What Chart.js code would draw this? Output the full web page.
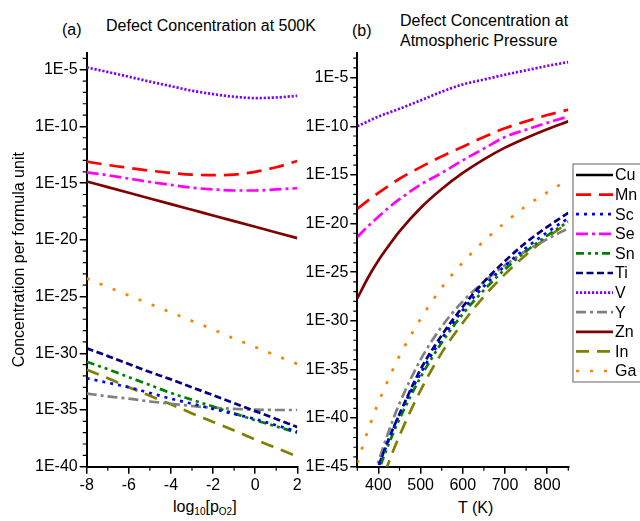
<!DOCTYPE html>
<html>
<head>
<meta charset="utf-8">
<script src="https://cdn.jsdelivr.net/npm/chart.js@4.4.0/dist/chart.umd.min.js"></script>
<style>
  body { margin: 0; background: #fff; width: 640px; height: 521px; overflow: hidden; position: relative;
         font-family: "Liberation Sans", Arial, sans-serif; color: #000; }
  canvas { position: absolute; top: 0; }
  #chartA { left: 0; }
  #chartB { left: 290px; }
  .txt { position: absolute; font-size: 16px; line-height: 18px; white-space: nowrap; }
  .txt sub { font-size: 10px; vertical-align: -3px; line-height: 0; }
</style>
</head>
<body>
<div class="txt" style="left:62px;top:21px">(a)</div>
<div class="txt" style="left:106px;top:17px">Defect Concentration at 500K</div>
<div class="txt" style="left:352px;top:22px">(b)</div>
<div class="txt" style="left:400px;top:11px;line-height:19.5px">Defect Concentration at<br>Atmospheric Pressure</div>
<div class="txt" style="left:173px;top:498px">log<sub>10</sub>[p<sub>O2</sub>]</div>
<div class="txt" style="left:458px;top:499px">T (K)</div>
<canvas id="chartA" width="320" height="521"></canvas>
<canvas id="chartB" width="350" height="521"></canvas>
<script>
// x values
const pO2 = [-8, -7, -6, -5, -4, -3, -2, -1, 0, 1, 2];            // log10[pO2], panel (a)
const temps = [350, 375, 400, 425, 450, 500, 550, 600, 650, 700, 750, 800, 850]; // T (K), panel (b)

const elements = ['Cu', 'Mn', 'Sc', 'Se', 'Sn', 'Ti', 'V', 'Y', 'Zn', 'In', 'Ga'];

// panel (a): log10 of concentration at 500 K
const cuA = [];
const mnA = [-13.1, -13.4, -13.65, -13.9, -14.1, -14.25, -14.3, -14.25, -14.0, -13.6, -13.05];
const scA = [-32.2, -32.6, -33.0, -33.5, -34.0, -34.45, -34.9, -35.35, -35.8, -36.35, -36.9];
const seA = [-14.05, -14.3, -14.6, -14.9, -15.15, -15.4, -15.55, -15.65, -15.65, -15.55, -15.45];
const snA = [-30.75, -31.4, -32.1, -32.8, -33.5, -34.1, -34.7, -35.3, -35.9, -36.45, -37.0];
const tiA = [-29.55, -30.25, -30.95, -31.65, -32.3, -33.0, -33.7, -34.4, -35.1, -35.8, -36.5];
const vA  = [-4.8, -5.2, -5.62, -6.05, -6.45, -6.85, -7.15, -7.38, -7.5, -7.45, -7.3];
const yA  = [-33.55, -33.8, -34.0, -34.25, -34.45, -34.65, -34.8, -34.9, -34.97, -35.0, -35.0];
const znA = [-14.85, -15.35, -15.85, -16.35, -16.85, -17.35, -17.85, -18.35, -18.85, -19.35, -19.85];
const inA = [-31.45, -32.2, -33.0, -33.75, -34.5, -35.3, -36.05, -36.8, -37.6, -38.35, -39.1];
const gaA = [-23.4, -24.15, -24.9, -25.65, -26.4, -27.15, -27.9, -28.7, -29.45, -30.2, -30.95];

// panel (b): log10 of concentration at atmospheric pressure
const cuB = [];
const mnB = [-18.5, -17.65, -16.85, -16.1, -15.4, -14.2, -13.1, -12.1, -11.1, -10.2, -9.5, -8.85, -8.3];
const scB = [-51.9, -48.2, -45.0, -42.2, -39.6, -35.4, -31.85, -28.9, -26.45, -24.35, -22.5, -20.9, -19.45];
const seB = [-21.4, -20.3, -19.3, -18.35, -17.5, -16.0, -14.8, -13.5, -12.3, -11.1, -10.35, -9.65, -9.0];
const snB = [-52.4, -48.7, -45.5, -42.6, -40.1, -35.8, -32.25, -29.3, -26.85, -24.7, -22.85, -21.25, -19.8];
const tiB = [-52.0, -48.3, -45.0, -42.1, -39.6, -35.0, -31.5, -28.55, -26.0, -23.85, -21.95, -20.35, -18.9];
const vB  = [-10.0, -9.5, -9.0, -8.6, -8.2, -7.35, -6.45, -5.7, -5.2, -4.7, -4.25, -3.8, -3.4];
const yB  = [-50.0, -48.0, -44.5, -41.3, -38.5, -34.0, -30.6, -28.0, -26.0, -24.3, -22.8, -21.6, -20.5];
const znB = [-27.7, -25.6, -23.8, -22.25, -20.8, -18.4, -16.45, -14.8, -13.4, -12.2, -11.2, -10.3, -9.5];
const inB = [-56.0, -51.1, -47.6, -44.5, -41.8, -37.15, -33.3, -30.2, -27.5, -25.2, -23.2, -21.45, -19.9];
const gaB = [-44.6, -41.3, -38.4, -35.9, -33.6, -29.8, -26.6, -24.0, -21.8, -19.9, -18.2, -16.8, -15.5];

// tick labels
const yTicksA = [-40, -35, -30, -25, -20, -15, -10, -5];
const yTicksB = [-45, -40, -35, -30, -25, -20, -15, -10, -5];
const xTicksA = [-8, -6, -4, -2, 0, 2];
const xTicksB = [400, 500, 600, 700, 800];

const seriesA = [cuA, mnA, scA, seA, snA, tiA, vA, yA, znA, inA, gaA];
const seriesB = [cuB, mnB, scB, seB, snB, tiB, vB, yB, znB, inB, gaB];

const styles = {
  Cu: { color: '#000000', dash: [] },
  Mn: { color: '#ff0000', dash: [15, 8] },
  Sc: { color: '#0000ff', dash: [3, 5] },
  Se: { color: '#ff00ff', dash: [12, 4, 3, 4] },
  Sn: { color: '#008000', dash: [8, 4, 3, 4, 3, 4] },
  Ti: { color: '#000080', dash: [7, 3.5] },
  V:  { color: '#8000ff', dash: [2.2, 1.8] },
  Y:  { color: '#808080', dash: [10, 4, 3, 4] },
  Zn: { color: '#800000', dash: [] },
  In: { color: '#808000', dash: [13, 8] },
  Ga: { color: '#ff8000', dash: [3, 11] }
};

const FONT = '"Liberation Sans", Arial, sans-serif';

function makeDatasets(xs, series) {
  return elements.map((el, i) => ({
    label: el,
    data: series[i].map((v, j) => ({ x: xs[j], y: v })),
    borderColor: styles[el].color,
    backgroundColor: styles[el].color,
    borderDash: styles[el].dash,
    borderWidth: 2.7,
    pointRadius: 0,
    fill: false,
    cubicInterpolationMode: 'monotone'
  }));
}

// short unlabeled ticks between the labeled ones
const minorTicks = {
  id: 'minorTicks',
  afterDraw(chart, args, opts) {
    const ctx = chart.ctx, a = chart.chartArea;
    const xs = chart.scales.x, ys = chart.scales.y;
    ctx.save();
    ctx.strokeStyle = '#000';
    ctx.lineWidth = 1.2;
    ctx.beginPath();
    opts.x.forEach(v => {
      const p = xs.getPixelForValue(v);
      ctx.moveTo(p, a.bottom); ctx.lineTo(p, a.bottom + 4);
    });
    opts.y.forEach(v => {
      const p = ys.getPixelForValue(v);
      ctx.moveTo(a.left - 4, p); ctx.lineTo(a.left, p);
    });
    ctx.stroke();
    ctx.restore();
  }
};

// legend box drawn to the right of panel (b)
const boxLegend = {
  id: 'boxLegend',
  afterDraw(chart, args, o) {
    if (!o.show) return;
    const ctx = chart.ctx;
    ctx.save();
    ctx.strokeStyle = '#7a7a7a';
    ctx.lineWidth = 1.2;
    ctx.strokeRect(o.x, o.y, o.w, o.h);
    ctx.font = '16px ' + FONT;
    ctx.textBaseline = 'middle';
    chart.data.datasets.forEach((ds, i) => {
      const y = o.y + 11 + i * o.row;
      ctx.strokeStyle = ds.borderColor;
      ctx.lineWidth = ds.borderWidth;
      ctx.setLineDash(ds.borderDash);
      ctx.beginPath();
      ctx.moveTo(o.x + 3, y);
      ctx.lineTo(o.x + 40, y);
      ctx.stroke();
      ctx.setLineDash([]);
      ctx.fillStyle = '#000';
      ctx.fillText(ds.label, o.x + 42, y + 1);
    });
    ctx.restore();
  }
};

function range(a, b, step) {
  const out = [];
  for (let v = a; v <= b + 1e-9; v += step) out.push(v);
  return out;
}

function makeChart(id, xs, series, cfg) {
  return new Chart(document.getElementById(id), {
    type: 'line',
    data: { datasets: makeDatasets(xs, series) },
    options: {
      responsive: false,
      animation: false,
      layout: { padding: cfg.padding },
      plugins: {
        legend: { display: false },
        tooltip: { enabled: false },
        minorTicks: { x: cfg.minorX, y: cfg.minorY },
        boxLegend: cfg.legend
      },
      scales: {
        x: {
          type: 'linear',
          min: cfg.xMin, max: cfg.xMax,
          afterBuildTicks: s => { s.ticks = cfg.xTicks.map(v => ({ value: v })); },
          afterFit: s => { s.height = 54.3; },
          border: { display: true, color: '#000', width: 2 },
          grid: { drawOnChartArea: false, drawTicks: true, tickLength: 7, tickColor: '#000', lineWidth: 1.5 },
          ticks: { color: '#000', font: { family: FONT, size: 16 }, padding: 2, maxRotation: 0 }
        },
        y: {
          type: 'linear',
          min: cfg.yMin, max: cfg.yMax,
          afterBuildTicks: s => { s.ticks = cfg.yTicks.map(v => ({ value: v })); },
          afterFit: s => { s.width = cfg.yWidth; },
          border: { display: true, color: '#000', width: 2 },
          grid: { drawOnChartArea: false, drawTicks: true, tickLength: 7, tickColor: '#000', lineWidth: 1.5 },
          ticks: { color: '#000', font: { family: FONT, size: 16 }, padding: 2, callback: v => '1E' + v },
          title: {
            display: cfg.yTitle !== '',
            text: cfg.yTitle,
            color: '#000',
            font: { family: FONT, size: 16 },
            padding: { top: 10, bottom: 0 }
          }
        }
      }
    },
    plugins: [minorTicks, boxLegend]
  });
}

makeChart('chartA', pO2, seriesA, {
  padding: { left: 0, right: 22.7, top: 52.7, bottom: 0 },
  xMin: -8, xMax: 2, yMin: -40, yMax: -3.5,
  xTicks: xTicksA, yTicks: yTicksA,
  minorX: range(-7, 1, 2),
  minorY: range(-39, -4, 1).filter(v => v % 5 !== 0),
  yWidth: 86.7,
  yTitle: 'Concentration per formula unit',
  legend: { show: false }
});

makeChart('chartB', temps, seriesB, {
  padding: { left: 0, right: 71.7, top: 53.3, bottom: 0 },
  xMin: 350, xMax: 850, yMin: -45, yMax: -2.5,
  xTicks: xTicksB, yTicks: yTicksB,
  minorX: range(350, 850, 100),
  minorY: range(-44, -3, 1).filter(v => v % 5 !== 0),
  yWidth: 67.3,
  yTitle: '',
  legend: { show: true, x: 283, y: 164, w: 80, h: 218, row: 19.6 }
});
</script>
</body>
</html>
